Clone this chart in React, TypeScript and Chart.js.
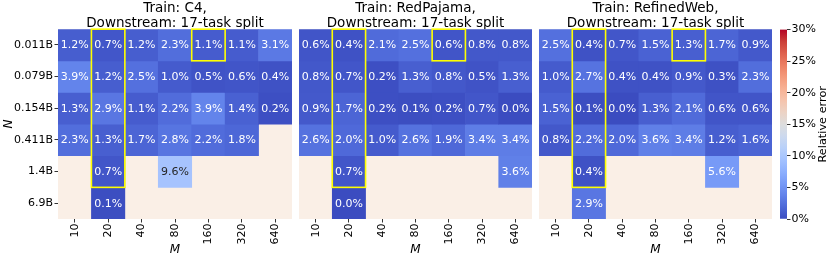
import React, { useEffect, useRef } from "react";
import { Chart, registerables } from "chart.js";

Chart.register(...registerables);

// ---------- data ----------
const M_LABELS = ["10", "20", "40", "80", "160", "320", "640"];
const N_LABELS = ["0.011B", "0.079B", "0.154B", "0.411B", "1.4B", "6.9B"];

const C4_TITLE = ["Train: C4,", "Downstream: 17-task split"];
const REDPAJAMA_TITLE = ["Train: RedPajama,", "Downstream: 17-task split"];
const REFINEDWEB_TITLE = ["Train: RefinedWeb,", "Downstream: 17-task split"];

const C4_ERRORS: (number | null)[][] = [
  [1.2, 0.7, 1.2, 2.3, 1.1, 1.1, 3.1],
  [3.9, 1.2, 2.5, 1.0, 0.5, 0.6, 0.4],
  [1.3, 2.9, 1.1, 2.2, 3.9, 1.4, 0.2],
  [2.3, 1.3, 1.7, 2.8, 2.2, 1.8, null],
  [null, 0.7, null, 9.6, null, null, null],
  [null, 0.1, null, null, null, null, null],
];

const REDPAJAMA_ERRORS: (number | null)[][] = [
  [0.6, 0.4, 2.1, 2.5, 0.6, 0.8, 0.8],
  [0.8, 0.7, 0.2, 1.3, 0.8, 0.5, 1.3],
  [0.9, 1.7, 0.2, 0.1, 0.2, 0.7, 0.0],
  [2.6, 2.0, 1.0, 2.6, 1.9, 3.4, 3.4],
  [null, 0.7, null, null, null, null, 3.6],
  [null, 0.0, null, null, null, null, null],
];

const REFINEDWEB_ERRORS: (number | null)[][] = [
  [2.5, 0.4, 0.7, 1.5, 1.3, 1.7, 0.9],
  [1.0, 2.7, 0.4, 0.4, 0.9, 0.3, 2.3],
  [1.5, 0.1, 0.0, 1.3, 2.1, 0.6, 0.6],
  [0.8, 2.2, 2.0, 3.6, 3.4, 1.2, 1.6],
  [null, 0.4, null, null, null, 5.6, null],
  [null, 2.9, null, null, null, null, null],
];

// highlighted cells (column index, first row, last row)
const HIGHLIGHT_BOXES = [
  { col: 1, rowStart: 0, rowEnd: 4 },
  { col: 4, rowStart: 0, rowEnd: 0 },
];

const COLORBAR_MIN = 0;
const COLORBAR_MAX = 30;
const COLORBAR_STEP = 5;
const COLORBAR_LABEL = "Relative error";
const X_TITLE = "M";
const Y_TITLE = "N";

// ---------- styling ----------
const FONT = "'DejaVu Sans', sans-serif";
const MISSING_BG = "#faefe6";
const W = 830;
const H = 259;

// matplotlib coolwarm (approximate control points)
const COOLWARM: [number, number, number, number][] = [
  [0.0, 0.2298, 0.2987, 0.7537],
  [0.0625, 0.3039, 0.4065, 0.845],
  [0.125, 0.383, 0.5094, 0.9174],
  [0.1875, 0.4667, 0.6046, 0.9682],
  [0.25, 0.553, 0.6889, 0.9954],
  [0.3125, 0.6392, 0.7596, 0.9982],
  [0.375, 0.7222, 0.814, 0.9766],
  [0.4375, 0.7987, 0.8498, 0.9317],
  [0.5, 0.8654, 0.8654, 0.8654],
  [0.5625, 0.9241, 0.8274, 0.7745],
  [0.625, 0.9589, 0.7698, 0.678],
  [0.6875, 0.97, 0.6943, 0.5794],
  [0.75, 0.958, 0.6028, 0.4818],
  [0.8125, 0.9239, 0.4973, 0.388],
  [0.875, 0.8692, 0.3783, 0.3003],
  [0.9375, 0.7956, 0.2413, 0.2205],
  [1.0, 0.7057, 0.0156, 0.1502],
];

function coolwarmRGB(t: number): [number, number, number] {
  const tt = Math.max(0, Math.min(1, t));
  for (let i = 0; i < COOLWARM.length - 1; i++) {
    const a = COOLWARM[i];
    const b = COOLWARM[i + 1];
    if (tt >= a[0] && tt <= b[0]) {
      const f = (tt - a[0]) / (b[0] - a[0]);
      return [a[1] + (b[1] - a[1]) * f, a[2] + (b[2] - a[2]) * f, a[3] + (b[3] - a[3]) * f];
    }
  }
  const l = COOLWARM[COOLWARM.length - 1];
  return [l[1], l[2], l[3]];
}

function toCss([r, g, b]: [number, number, number]) {
  return `rgb(${Math.round(r * 255)},${Math.round(g * 255)},${Math.round(b * 255)})`;
}

function cellColor(v: number) {
  return toCss(coolwarmRGB((v - COLORBAR_MIN) / (COLORBAR_MAX - COLORBAR_MIN)));
}

function textColor(v: number) {
  const rgb = coolwarmRGB((v - COLORBAR_MIN) / (COLORBAR_MAX - COLORBAR_MIN)).map((c) =>
    c <= 0.03928 ? c / 12.92 : Math.pow((c + 0.055) / 1.055, 2.4)
  );
  const lum = rgb[0] * 0.2126 + rgb[1] * 0.7152 + rgb[2] * 0.0722;
  return lum > 0.408 ? "#262626" : "#ffffff";
}

type PanelCfg = {
  title: string[];
  values: (number | null)[][];
  padLeft: number;
  padRight: number;
  showY: boolean;
};

function makeHeatmap(canvas: HTMLCanvasElement, cfg: PanelCfg) {
  const { values } = cfg;
  const datasets = N_LABELS.map((_, r) => ({
    label: N_LABELS[r],
    data: M_LABELS.map((_, c) => (values[r][c] == null ? null : [r, r + 1])) as any,
    backgroundColor: M_LABELS.map((_, c) => {
      const v = values[r][c];
      return v == null ? "rgba(0,0,0,0)" : cellColor(v);
    }),
    borderWidth: 0,
    barPercentage: 1,
    categoryPercentage: 1,
    grouped: false,
  }));

  const bgPlugin = {
    id: "missingBg",
    beforeDatasetsDraw(chart: any) {
      const { ctx, chartArea: a } = chart;
      ctx.save();
      ctx.fillStyle = MISSING_BG;
      ctx.fillRect(a.left, a.top, a.right - a.left, a.bottom - a.top);
      ctx.restore();
    },
  };

  const labelPlugin = {
    id: "cellLabels",
    afterDatasetsDraw(chart: any) {
      const ctx = chart.ctx;
      ctx.save();
      ctx.font = `11px ${FONT}`;
      ctx.textAlign = "center";
      ctx.textBaseline = "middle";
      chart.data.datasets.forEach((_: any, r: number) => {
        const meta = chart.getDatasetMeta(r);
        meta.data.forEach((bar: any, c: number) => {
          const v = values[r][c];
          if (v == null) return;
          const p = bar.getProps(["x", "y", "base"], true);
          ctx.fillStyle = textColor(v);
          ctx.fillText(`${v.toFixed(1)}%`, p.x, (p.y + p.base) / 2 + 0.5);
        });
      });
      ctx.restore();
    },
  };

  const boxPlugin = {
    id: "highlightBoxes",
    afterDatasetsDraw(chart: any) {
      const { ctx } = chart;
      const xs = chart.scales.x;
      const ys = chart.scales.y;
      const half = (xs.getPixelForValue(1) - xs.getPixelForValue(0)) / 2;
      ctx.save();
      ctx.strokeStyle = "#ffff00";
      ctx.lineWidth = 1.6;
      HIGHLIGHT_BOXES.forEach((b) => {
        const x0 = xs.getPixelForValue(b.col) - half;
        const x1 = xs.getPixelForValue(b.col) + half;
        const y0 = ys.getPixelForValue(b.rowStart);
        const y1 = ys.getPixelForValue(b.rowEnd + 1);
        ctx.strokeRect(x0, y0, x1 - x0, y1 - y0);
      });
      ctx.restore();
    },
  };

  return new Chart(canvas, {
    type: "bar",
    data: { labels: M_LABELS, datasets },
    plugins: [bgPlugin, labelPlugin, boxPlugin],
    options: {
      animation: false,
      responsive: false,
      events: [],
      layout: { padding: { left: cfg.padLeft, right: cfg.padRight, top: 0, bottom: 0 } },
      plugins: {
        legend: { display: false },
        tooltip: { enabled: false },
        title: {
          display: true,
          text: cfg.title,
          fullSize: false,
          color: "#000",
          font: { family: FONT, size: 13.5, weight: "normal", lineHeight: 1.08 },
          padding: { top: 1.5, bottom: -1.5 },
        },
      },
      scales: {
        x: {
          type: "category",
          offset: true,
          border: { display: false },
          grid: {
            offset: false,
            drawOnChartArea: false,
            drawTicks: true,
            tickLength: 3.5,
            tickColor: "#333",
          },
          ticks: {
            color: "#000",
            font: { family: FONT, size: 11 },
            minRotation: 90,
            maxRotation: 90,
            autoSkip: false,
            padding: 1,
          },
          title: {
            display: true,
            text: X_TITLE,
            color: "#000",
            font: { family: FONT, size: 12, style: "italic" },
            padding: { top: 0, bottom: 2 },
          },
          afterFit: (s: any) => {
            s.height = 40;
          },
        },
        y: {
          type: "linear",
          display: cfg.showY,
          min: 0,
          max: N_LABELS.length,
          reverse: true,
          border: { display: false },
          grid: {
            drawOnChartArea: false,
            drawTicks: true,
            tickLength: 3.5,
            tickColor: "#333",
          },
          afterBuildTicks: (s: any) => {
            s.ticks = N_LABELS.map((_, i) => ({ value: i + 0.5 }));
          },
          ticks: {
            color: "#000",
            font: { family: FONT, size: 11 },
            padding: 1.5,
            callback: (v: any) => N_LABELS[Math.floor(Number(v))],
          },
          title: {
            display: true,
            text: Y_TITLE,
            color: "#000",
            font: { family: FONT, size: 12, style: "italic" },
            padding: { top: 2, bottom: 0 },
          },
          afterFit: (s: any) => {
            s.width = cfg.showY ? 58 : 0;
          },
        },
      },
    } as any,
  });
}

function makeColorbar(canvas: HTMLCanvasElement) {
  const labelPlugin = {
    id: "cbLabel",
    afterDraw(chart: any) {
      const { ctx, chartArea: a } = chart;
      ctx.save();
      ctx.translate(a.right + 36, (a.top + a.bottom) / 2);
      ctx.rotate(-Math.PI / 2);
      ctx.font = `11.3px ${FONT}`;
      ctx.fillStyle = "#000";
      ctx.textAlign = "center";
      ctx.textBaseline = "middle";
      ctx.fillText(COLORBAR_LABEL, 0, 0);
      ctx.restore();
    },
  };

  return new Chart(canvas, {
    type: "bar",
    data: {
      labels: [COLORBAR_LABEL],
      datasets: [
        {
          data: [[COLORBAR_MIN, COLORBAR_MAX]] as any,
          borderWidth: 0,
          barPercentage: 1,
          categoryPercentage: 1,
          backgroundColor: (c: any) => {
            const a = c.chart.chartArea;
            if (!a) return cellColor(COLORBAR_MIN);
            const g = c.chart.ctx.createLinearGradient(0, a.bottom, 0, a.top);
            COOLWARM.forEach(([t, r, gg, b]) => g.addColorStop(t, toCss([r, gg, b])));
            return g;
          },
        },
      ],
    },
    plugins: [labelPlugin],
    options: {
      animation: false,
      responsive: false,
      events: [],
      layout: { padding: { left: 780, right: 0, top: 29.5, bottom: 40 } },
      plugins: { legend: { display: false }, tooltip: { enabled: false } },
      scales: {
        x: { display: false, offset: true },
        y: {
          type: "linear",
          position: "right",
          min: COLORBAR_MIN,
          max: COLORBAR_MAX,
          border: { display: false },
          grid: { drawOnChartArea: false, drawTicks: true, tickLength: 3.5, tickColor: "#333" },
          ticks: {
            stepSize: COLORBAR_STEP,
            color: "#000",
            font: { family: FONT, size: 11 },
            padding: 1,
            callback: (v: any) => `${v}%`,
          },
          afterFit: (s: any) => {
            s.width = 43;
          },
        },
      },
    } as any,
  });
}

export default function App() {
  const c1 = useRef<HTMLCanvasElement>(null);
  const c2 = useRef<HTMLCanvasElement>(null);
  const c3 = useRef<HTMLCanvasElement>(null);
  const c4 = useRef<HTMLCanvasElement>(null);

  useEffect(() => {
    const charts = [
      makeHeatmap(c1.current!, { title: C4_TITLE, values: C4_ERRORS, padLeft: 0, padRight: W - 292, showY: true }),
      makeHeatmap(c2.current!, { title: REDPAJAMA_TITLE, values: REDPAJAMA_ERRORS, padLeft: 299, padRight: W - 532, showY: false }),
      makeHeatmap(c3.current!, { title: REFINEDWEB_TITLE, values: REFINEDWEB_ERRORS, padLeft: 539, padRight: W - 772, showY: false }),
      makeColorbar(c4.current!),
    ];
    return () => charts.forEach((c) => c.destroy());
  }, []);

  const style: React.CSSProperties = { position: "absolute", left: 0, top: 0, width: W, height: H };
  return (
    <div style={{ position: "absolute", left: 0, top: 0, width: W, height: H, background: "#fff" }}>
      <canvas ref={c1} width={W} height={H} style={style} />
      <canvas ref={c2} width={W} height={H} style={style} />
      <canvas ref={c3} width={W} height={H} style={style} />
      <canvas ref={c4} width={W} height={H} style={style} />
    </div>
  );
}
